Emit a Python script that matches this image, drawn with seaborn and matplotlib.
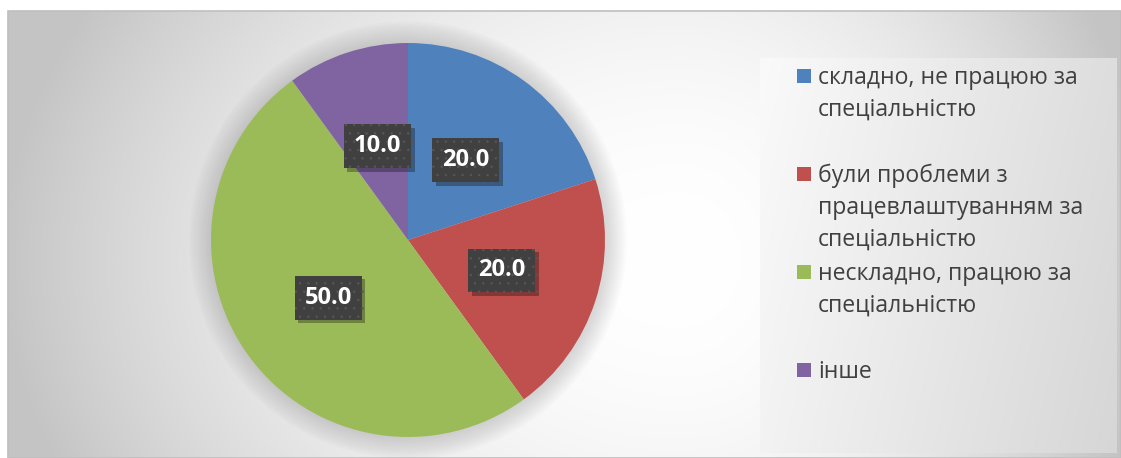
import textwrap
import numpy as np
import matplotlib
matplotlib.use("Agg")
import matplotlib.pyplot as plt
import matplotlib.patheffects as pe
from matplotlib.patches import Rectangle, Circle
import seaborn as sns

# data
categories = ["складно, не працюю за спеціальністю",
              "були проблеми з працевлаштуванням за спеціальністю",
              "нескладно, працюю за спеціальністю",
              "інше"]
values = [20.0, 20.0, 50.0, 10.0]
colors = ["#4f81bd", "#c0504d", "#9bbb59", "#8064a2"]

sns.set_theme(style="white")
plt.rcParams['font.family'] = ['Open Sans', 'DejaVu Sans']
plt.rcParams['hatch.linewidth'] = 0.5

W, H = 1121, 458
fig = plt.figure(figsize=(W / 100, H / 100), dpi=100)
fig.patch.set_facecolor("white")

# background axes in pixel coordinates
bg = fig.add_axes([0, 0, 1, 1])

# chart area gradient (light centre, grey edges)
xx, yy = np.meshgrid(np.linspace(8, W, 400), np.linspace(11, H, 200))
rx = np.where(xx < 680, 680.0, 470.0)
t = np.clip(np.sqrt(((xx - 680) / rx) ** 2 + ((yy - 260) / 520) ** 2), 0, 1)
shade = 1.0 - 0.23 * t ** 2.0
bg.imshow(np.dstack([shade] * 3), extent=[8, W, H, 11], aspect="auto", zorder=0)
bg.add_patch(Rectangle((8, 11), W - 8, H - 11, fill=False, ec="#bfbfbf", lw=1.2, zorder=1))

# legend box gradient
lx, ly = np.meshgrid(np.linspace(0, 1, 200), np.linspace(0, 1, 200))
lshade = 0.98 - 0.14 * np.clip(0.8 * lx + 0.2 * ly, 0, 1)
bg.imshow(np.dstack([lshade] * 3), extent=[760, 1117, 453, 58], aspect="auto", zorder=1)
bg.set_xlim(0, W)
bg.set_ylim(H, 0)
bg.axis("off")

# legend entries, one text per wrapped line
text_x = 818
first_base = 84
step = 98
line_h = 32
for i, (lab, col) in enumerate(zip(categories, colors)):
    yb = first_base + i * step
    bg.add_patch(Rectangle((797, yb - 15), 14, 14, color=col, lw=0, zorder=3))
    for n, line in enumerate(textwrap.wrap(lab, width=22)):
        bg.text(text_x, yb + n * line_h, line, fontsize=16.6, color="#404040",
                va="baseline", ha="left", zorder=3)

# pie axes
cx, cy, r = 408, 240, 197
k = 1.2
half = k * r
ax = fig.add_axes([(cx - half) / W, (H - cy - half) / H, 2 * half / W, 2 * half / H])

# soft halo around the pie
for j in range(10):
    ax.add_patch(Circle((0, 0), 1 + 0.011 * (10 - j), color="#808080", alpha=0.03, lw=0, zorder=0))

wedges, texts, autotexts = ax.pie(values, colors=colors, startangle=90, counterclock=False,
                                  autopct="%.1f", pctdistance=0.5, radius=1,
                                  wedgeprops=dict(linewidth=0))
ax.set_xlim(-k, k)
ax.set_ylim(-k, k)
ax.set_aspect("auto")
ax.axis("off")

for at in autotexts:
    at.set_color("white")
    at.set_fontsize(17)
    at.set_fontweight("bold")
    at.set_bbox(dict(boxstyle="square,pad=0.42", fc="#404040", ec="#575757", lw=0, hatch=".."))
    at.get_bbox_patch().set_path_effects([
        pe.withSimplePatchShadow(offset=(2.5, -2.5), shadow_rgbFace="black", alpha=0.3)])

fig.savefig("out.png", dpi=100)
